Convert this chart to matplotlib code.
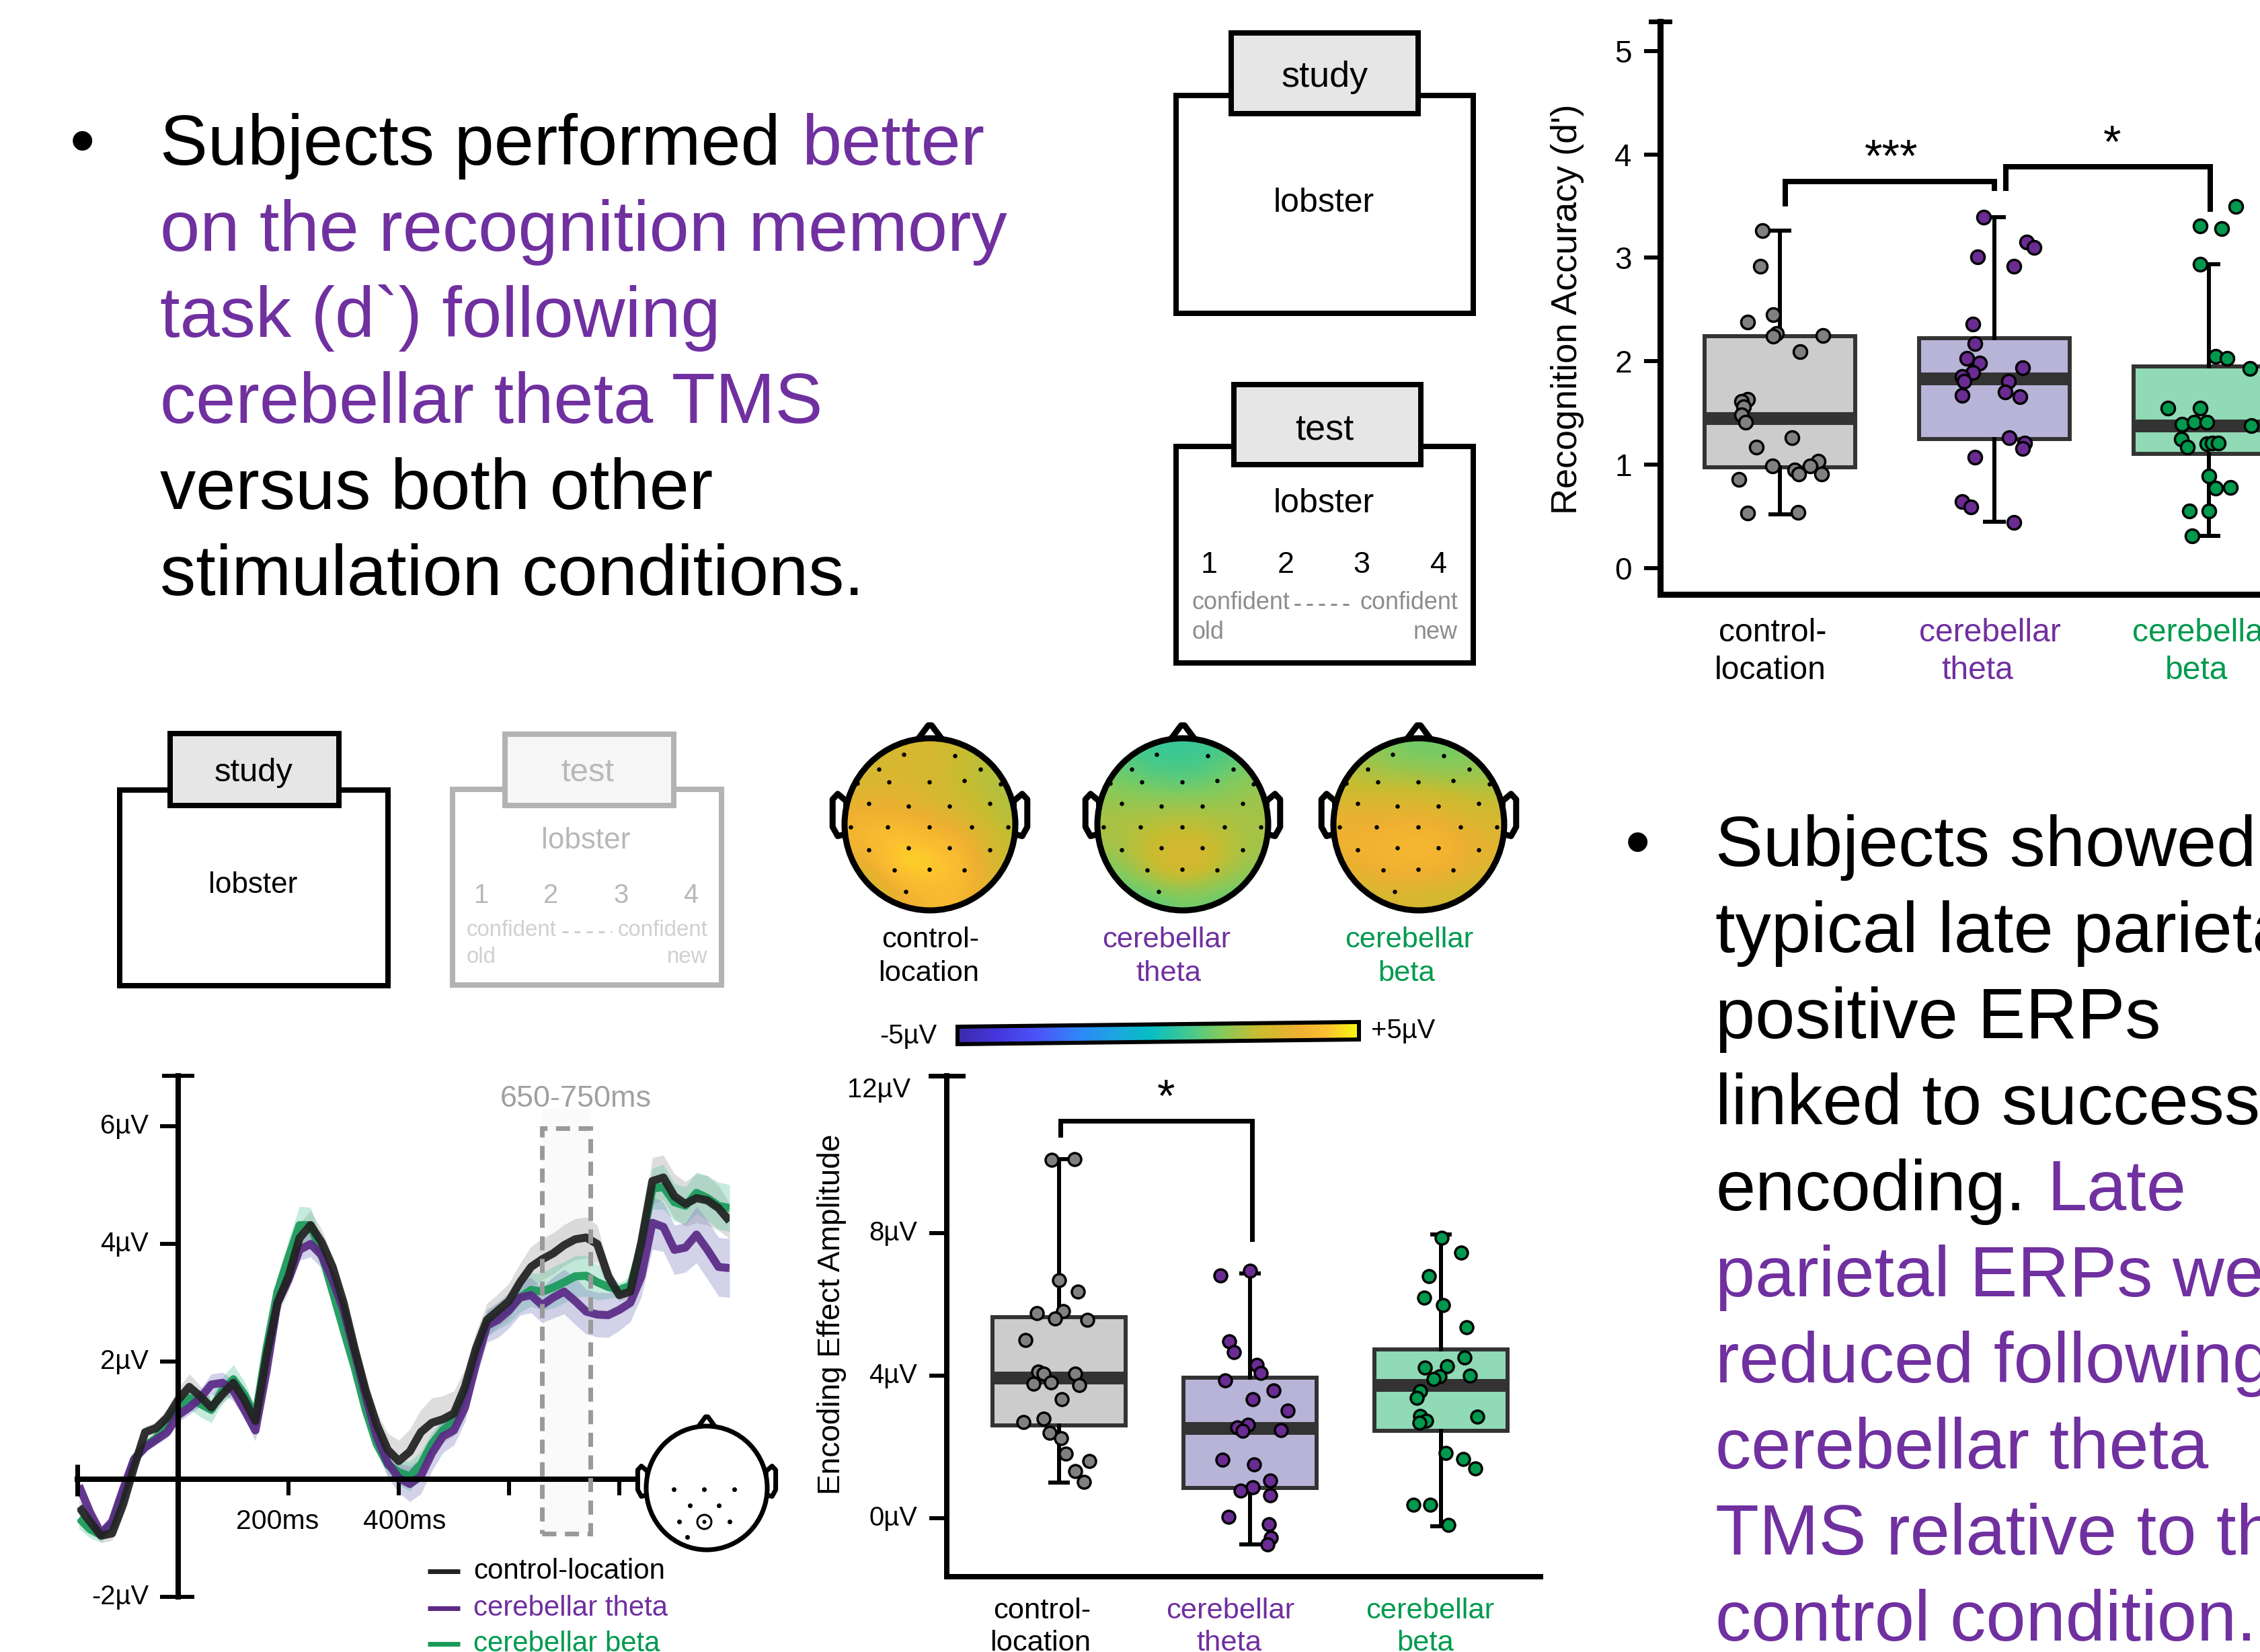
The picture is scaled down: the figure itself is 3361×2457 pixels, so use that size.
import numpy as np
import matplotlib
matplotlib.use('Agg')
from matplotlib import pyplot as plt
from matplotlib.colors import LinearSegmentedColormap
from matplotlib.patches import Ellipse, Polygon, Rectangle
from matplotlib.transforms import ScaledTranslation

plt.rcParams['font.family'] = ['Liberation Sans', 'DejaVu Sans']

W, H = 3361, 2457
PURPLE = '#7030A0'
GREEN = '#009A4E'

# ---- recognition accuracy boxes
rec_stats = [
    dict(med=1.45, q1=0.975, q3=2.24, whislo=0.52, whishi=3.26),
    dict(med=1.83, q1=1.25, q3=2.22, whislo=0.45, whishi=3.39),
    dict(med=1.38, q1=1.105, q3=1.95, whislo=0.31, whishi=2.94),
]
rec_control = [3.26, 2.92, 2.45, 2.38, 2.27, 2.24, 2.25, 2.09, 1.63, 1.61, 1.56, 1.48, 1.41, 1.26, 1.17, 1.03, 0.99, 0.99, 0.95, 0.91, 0.91, 0.86, 0.53, 0.54]
rec_control_x = [-0.08, -0.09, -0.03, -0.15, -0.016, -0.03, 0.2, 0.095, -0.15, -0.18, -0.17, -0.18, -0.16, 0.055, -0.11, 0.18, 0.14, -0.035, 0.07, 0.087, 0.195, -0.19, -0.15, 0.085]
rec_theta = [3.39, 3.15, 3.10, 3.01, 2.92, 2.36, 2.17, 2.03, 1.98, 1.94, 1.89, 1.85, 1.81, 1.81, 1.67, 1.70, 1.66, 1.26, 1.21, 1.16, 1.07, 0.64, 0.59, 0.44]
rec_theta_x = [-0.05, 0.15, 0.185, -0.08, 0.09, -0.10, -0.09, -0.13, -0.07, 0.13, -0.10, -0.15, -0.14, 0.065, -0.15, 0.05, 0.12, 0.07, 0.14, 0.13, -0.09, -0.15, -0.11, 0.09]
rec_beta = [3.50, 3.31, 3.28, 2.94, 2.05, 2.03, 1.93, 1.55, 1.55, 1.39, 1.41, 1.41, 1.38, 1.25, 1.17, 1.20, 1.21, 1.21, 0.89, 0.77, 0.78, 0.55, 0.55, 0.31]
rec_beta_x = [0.125, -0.04, 0.06, -0.04, 0.03, 0.085, 0.19, -0.19, -0.04, -0.125, -0.07, -0.01, 0.197, -0.13, -0.10, -0.01, 0.015, 0.044, 0.0, 0.03, 0.10, -0.09, 0.0, -0.08]

# ---- encoding effect boxes
enc_stats = [
    dict(med=3.93, q1=2.60, q3=5.63, whislo=1.0, whishi=10.07),
    dict(med=2.52, q1=0.85, q3=3.93, whislo=-0.74, whishi=6.87),
    dict(med=3.74, q1=2.45, q3=4.73, whislo=-0.23, whishi=7.96),
]
enc_control = [10.04, 10.07, 6.68, 6.35, 5.80, 5.74, 5.60, 5.56, 4.99, 4.10, 4.05, 4.06, 3.77, 3.81, 3.73, 3.33, 2.70, 2.79, 2.39, 2.25, 1.81, 1.60, 1.31, 1.02]
enc_control_x = [-0.04, 0.08, 0.0, 0.10, 0.02, -0.117, -0.02, 0.147, -0.175, -0.11, -0.08, 0.086, -0.134, -0.043, 0.106, 0.013, -0.185, -0.08, -0.05, 0.01, 0.035, 0.16, 0.084, 0.13]
enc_theta = [6.81, 6.94, 4.96, 4.65, 4.30, 4.07, 3.86, 3.58, 3.33, 3.01, 2.62, 2.55, 2.44, 2.47, 1.63, 1.50, 1.05, 0.87, 0.78, 0.63, 0.03, -0.18, -0.55, -0.73]
enc_theta_x = [-0.155, 0.0, -0.11, -0.086, 0.035, 0.056, -0.13, 0.124, 0.015, 0.198, -0.01, -0.068, -0.038, 0.162, -0.145, 0.02, 0.104, 0.013, -0.05, 0.104, -0.114, 0.1, 0.11, 0.09]
enc_beta = [7.87, 7.44, 6.78, 6.18, 5.98, 5.35, 4.50, 4.22, 4.25, 4.0, 3.98, 3.90, 3.57, 3.38, 2.87, 2.85, 2.73, 2.68, 1.82, 1.65, 1.40, 0.38, 0.37, -0.20]
enc_beta_x = [0.005, 0.104, -0.063, -0.089, 0.01, 0.134, 0.124, -0.086, 0.033, 0.15, -0.008, -0.04, -0.109, -0.127, -0.109, 0.19, -0.078, -0.114, 0.023, 0.117, 0.18, -0.144, -0.056, 0.04]

# ---- ERP curves, ms and microvolts
erp_t = [-180, -160, -140, -120, -100, -80, -60, -40, -20, 0, 20, 40, 60, 80, 100, 120, 140, 160, 180, 200,
         220, 240, 260, 280, 300, 320, 340, 360, 380, 400, 420, 440, 460, 480, 500, 520, 540, 560, 580, 600,
         620, 640, 660, 680, 700, 720, 740, 760, 780, 800, 820, 840, 860, 880, 900, 920, 940, 960, 980, 1000]
erp_control = [-0.47, -0.72, -0.96, -0.92, -0.43, 0.21, 0.80, 0.87, 1.05, 1.35, 1.57, 1.41, 1.22, 1.44, 1.64, 1.35, 0.99, 2.09, 3.0, 3.45,
               4.10, 4.32, 4.03, 3.61, 3.0, 2.22, 1.51, 0.93, 0.50, 0.31, 0.47, 0.80, 0.96, 1.02, 1.12, 1.57, 2.22, 2.71, 2.87, 3.03,
               3.35, 3.61, 3.74, 3.84, 3.98, 4.08, 4.11, 4.0, 3.45, 3.13, 3.19, 4.03, 5.07, 5.13, 4.81, 4.68, 4.78, 4.74, 4.61, 4.39]
erp_theta = [-0.11, -0.56, -0.92, -0.72, -0.17, 0.34, 0.54, 0.67, 0.80, 1.09, 1.22, 1.38, 1.61, 1.64, 1.51, 1.18, 0.83, 1.83, 3.0, 3.39,
             3.90, 4.0, 3.81, 3.39, 2.87, 2.16, 1.41, 0.73, 0.28, 0.02, -0.08, 0.05, 0.44, 0.73, 0.83, 1.22, 1.96, 2.61, 2.71, 2.87,
             3.09, 3.13, 2.96, 3.09, 3.19, 3.03, 2.85, 2.80, 2.79, 2.88, 3.0, 3.45, 4.36, 4.29, 3.90, 3.94, 4.16, 3.90, 3.61, 3.59]
erp_beta = [-0.66, -0.85, -0.95, -0.76, -0.24, 0.34, 0.57, 0.70, 0.96, 1.25, 1.38, 1.28, 1.18, 1.51, 1.70, 1.44, 1.06, 2.22, 3.19, 3.77,
            4.32, 4.32, 3.84, 3.19, 2.54, 1.90, 1.18, 0.60, 0.25, 0.12, 0.05, 0.25, 0.60, 0.83, 0.99, 1.44, 2.09, 2.64, 2.77, 2.90,
            3.09, 3.22, 3.19, 3.26, 3.35, 3.45, 3.46, 3.35, 3.27, 3.22, 3.29, 3.97, 4.94, 4.97, 4.71, 4.65, 4.87, 4.78, 4.65, 4.61]
erp_control_err = [0.12, 0.12, 0.12, 0.12, 0.10, 0.10, 0.10, 0.10, 0.15, 0.20, 0.22, 0.18, 0.12, 0.15, 0.15, 0.15, 0.15, 0.15, 0.22, 0.25,
                   0.25, 0.25, 0.22, 0.18, 0.15, 0.15, 0.18, 0.22, 0.28, 0.35, 0.38, 0.38, 0.42, 0.40, 0.38, 0.30, 0.28, 0.28, 0.28, 0.30,
                   0.32, 0.35, 0.35, 0.35, 0.35, 0.35, 0.35, 0.32, 0.20, 0.10, 0.12, 0.25, 0.40, 0.38, 0.38, 0.38, 0.42, 0.42, 0.38, 0.30]
erp_theta_err = [0.10, 0.10, 0.08, 0.08, 0.08, 0.08, 0.08, 0.08, 0.10, 0.12, 0.12, 0.15, 0.18, 0.18, 0.18, 0.15, 0.18, 0.15, 0.15, 0.15,
                 0.18, 0.22, 0.22, 0.18, 0.15, 0.12, 0.15, 0.20, 0.25, 0.25, 0.30, 0.30, 0.30, 0.28, 0.25, 0.25, 0.25, 0.28, 0.30, 0.30,
                 0.30, 0.30, 0.30, 0.35, 0.38, 0.40, 0.38, 0.38, 0.38, 0.35, 0.32, 0.35, 0.45, 0.42, 0.42, 0.42, 0.48, 0.50, 0.50, 0.50]
erp_beta_err = [0.18, 0.15, 0.12, 0.10, 0.10, 0.08, 0.08, 0.08, 0.08, 0.10, 0.18, 0.22, 0.22, 0.22, 0.25, 0.22, 0.18, 0.18, 0.25, 0.30,
                0.32, 0.30, 0.25, 0.20, 0.15, 0.15, 0.15, 0.15, 0.18, 0.22, 0.25, 0.22, 0.20, 0.18, 0.15, 0.15, 0.18, 0.22, 0.22, 0.25,
                0.25, 0.28, 0.32, 0.35, 0.35, 0.35, 0.35, 0.30, 0.20, 0.12, 0.15, 0.25, 0.35, 0.38, 0.32, 0.32, 0.35, 0.38, 0.40, 0.40]

# ---- scalp maps, rows go front to back, columns left to right
topo_control = [[2.7, 2.9, 2.9, 2.5, 2.2], [2.8, 3.0, 2.8, 2.4, 2.2], [3.5, 3.4, 3.1, 2.7, 2.2],
                [3.9, 4.4, 4.0, 3.7, 2.4], [3.0, 4.6, 4.6, 4.1, 2.7], [2.0, 3.3, 3.8, 3.9, 2.8]]
topo_theta = [[1.0, 0.6, 0.6, 0.7, 1.2], [1.5, 1.2, 1.0, 1.3, 1.8], [2.0, 2.0, 2.1, 2.0, 2.0],
              [2.1, 2.5, 2.7, 2.5, 2.0], [1.5, 2.6, 3.3, 2.6, 1.8], [0.8, 1.0, 1.4, 1.2, 1.0]]
topo_beta = [[2.0, 1.5, 1.3, 1.3, 1.6], [2.4, 2.2, 2.2, 2.0, 2.0], [3.2, 3.2, 3.3, 3.0, 2.6],
             [3.6, 3.7, 4.0, 3.6, 3.2], [3.4, 3.7, 3.8, 3.6, 3.1], [2.4, 2.9, 2.8, 2.6, 2.4]]
elec_x = [-0.31, 0.29, -0.60, 0.59, -0.85, -0.48, -0.01, 0.40, 0.83, -0.72, -0.25, 0.23, 0.70, -0.93, -0.50, -0.01, 0.49, 0.91, -0.72, -0.25, 0.23, 0.70, -0.42, -0.01, 0.40, -0.28]
elec_y = [-0.81, -0.80, -0.64, -0.64, -0.48, -0.49, -0.49, -0.51, -0.47, -0.24, -0.21, -0.21, -0.24, 0.03, 0.03, 0.03, 0.03, 0.03, 0.30, 0.27, 0.27, 0.30, 0.53, 0.52, 0.53, 0.78]
roi_x = [-0.54, -0.04, 0.46, -0.28, 0.20, -0.46, 0.38, -0.32]
roi_y = [0.02, 0.02, 0.02, 0.28, 0.28, 0.54, 0.54, 0.79]

left_lines = [('Subjects performed ', 'k'), ('on the recognition memory', PURPLE), ('task (d`) following', PURPLE),
              ('cerebellar theta TMS', PURPLE), ('versus both other', 'k'), ('stimulation conditions.', 'k')]
right_lines = [('Subjects showed', 'k'), ('typical late parietal', 'k'), ('positive ERPs', 'k'), ('linked to successful', 'k'),
               ('encoding.', 'k'), ('parietal ERPs were', PURPLE), ('reduced following', PURPLE), ('cerebellar theta', PURPLE),
               ('TMS relative to the', PURPLE), ('control condition.', PURPLE)]

parula = LinearSegmentedColormap.from_list('parula_ish', [
    (0.0, '#3b2aa8'), (0.1, '#4636e0'), (0.2, '#4a55f8'), (0.3, '#2f86f8'), (0.4, '#1aa8dc'), (0.48, '#08bdc4'),
    (0.58, '#44c98c'), (0.65, '#7ecb60'), (0.75, '#c8bc30'), (0.85, '#efb030'), (0.92, '#fcc030'), (1.0, '#f8f810')])


def pt(px):
    # dpi is 100, so everything below is given in output pixels
    return px * 0.72


def px_axes(x0, y0, x1, y1, **kw):
    return fig.add_axes([x0 / W, 1 - y1 / H, (x1 - x0) / W, (y1 - y0) / H], **kw)


fig = plt.figure(figsize=(W / 100, H / 100), dpi=100, facecolor='white')
ov = px_axes(0, 0, W, H, zorder=5)
ov.set_xlim(0, W)
ov.set_ylim(H, 0)
ov.axis('off')
ov.patch.set_alpha(0)


def label(x, y, s, size, color='k', ha='center', **kw):
    ov.text(x, y, s, fontsize=pt(size), color=color, ha=ha, va=kw.pop('va', 'center'), **kw)


def lift_ticklabels(ax, px):
    shift = ScaledTranslation(0, px / 100, fig.dpi_scale_trans)
    for lab in ax.get_yticklabels():
        lab.set_transform(lab.get_transform() + shift)


def trial_box(body, tab, tab_fill, edge):
    ov.add_patch(Rectangle((body[0], body[1]), body[2] - body[0], body[3] - body[1], fc='white', ec=edge, lw=pt(8), joinstyle='miter'))
    ov.add_patch(Rectangle((tab[0], tab[1]), tab[2] - tab[0], tab[3] - tab[1], fc=tab_fill, ec=edge, lw=pt(8), joinstyle='miter'))


def head(cx, cy, rx, ry, lw=9, zorder=3):
    ov.add_patch(Polygon([(cx - 0.14 * rx, cy - ry * 0.99), (cx - 0.02 * rx, cy - ry * 1.15), (cx + 0.02 * rx, cy - ry * 1.15), (cx + 0.14 * rx, cy - ry * 0.99)],
                         closed=True, fc='white', ec='k', lw=pt(lw), joinstyle='round', zorder=zorder))
    for s in (-1, 1):
        ov.add_patch(Polygon([(cx + s * rx * 0.98, cy - 0.27 * ry), (cx + s * rx * 1.08, cy - 0.354 * ry), (cx + s * rx * 1.14, cy - 0.29 * ry),
                              (cx + s * rx * 1.14, cy + 0.03 * ry), (cx + s * rx * 1.08, cy + 0.137 * ry), (cx + s * rx * 0.98, cy + 0.11 * ry)],
                             closed=True, fc='white', ec='k', lw=pt(lw), joinstyle='round', zorder=zorder))


def box_panel(ax, stats, pts, pt_fill, box_fill, xlim, ylim, dot):
    res = ax.bxp(stats, positions=[0, 1, 2], widths=0.70, patch_artist=True, showfliers=False, capwidths=0.09,
                 manage_ticks=False, boxprops=dict(edgecolor='#333333', linewidth=pt(6)),
                 medianprops=dict(color='#333333', linewidth=pt(19), solid_capstyle='butt'),
                 whiskerprops=dict(color='k', linewidth=pt(6)), capprops=dict(color='k', linewidth=pt(6)))
    for b, c in zip(res['boxes'], box_fill):
        b.set_facecolor(c)
    for i, (vals, off) in enumerate(pts):
        ax.scatter(i + np.array(off), vals, s=pt(dot) ** 2, color=pt_fill[i], edgecolor='k', linewidth=pt(3.5), zorder=6, clip_on=False)
    ax.set_xlim(*xlim)
    ax.set_ylim(*ylim)
    ax.set_xticks([])
    ax.spines[['top', 'right']].set_visible(False)


dot_fill = ['#808080', '#6a2b92', '#00994d']
box_fill = ['#cccccc', '#b8b4d8', '#90dab6']

# ---- recognition panel
ax1 = px_axes(2469, 32, 3361, 884)
box_panel(ax1, rec_stats, [(rec_control, rec_control_x), (rec_theta, rec_theta_x), (rec_beta, rec_beta_x)],
          dot_fill, box_fill, (-0.558, 2.238), (-0.254, 5.285), 20)
ax1.spines['left'].set_linewidth(pt(9))
ax1.spines['bottom'].set_linewidth(pt(9))
ax1.set_yticks([0, 1, 2, 3, 4, 5])
ax1.tick_params(axis='y', length=pt(24), width=pt(6), labelsize=pt(46), pad=pt(18))
ax1.plot([-0.016, 0.016], [5.285, 5.285], transform=ax1.get_yaxis_transform(), color='k', lw=pt(7), clip_on=False)
ax1.plot([0.024, 0.024, 1.0, 1.0], [3.52, 3.74, 3.74, 3.67], color='k', lw=pt(8), solid_joinstyle='miter')
ax1.plot([1.053, 1.053, 2.007, 2.007], [3.67, 3.88, 3.88, 3.47], color='k', lw=pt(8), solid_joinstyle='miter')
ax1.text(0.52, 3.95, '***', fontsize=pt(68), ha='center', va='center')
ax1.text(1.55, 4.09, '*', fontsize=pt(68), ha='center', va='center')
label(2331, 460, "Recognition Accuracy (d')", 54, rotation=90)
label(2636, 941, 'control-', 48)
label(2633, 998, 'location', 48)
label(2959, 941, 'cerebellar', 48, PURPLE)
label(2941, 998, 'theta', 48, PURPLE)
label(3171, 941, 'cerebellar', 48, GREEN, ha='left')
label(3267, 998, 'beta', 48, GREEN)

# ---- encoding effect panel
ax3 = px_axes(1408, 1600, 2291, 2345)
box_panel(ax3, enc_stats, [(enc_control, enc_control_x), (enc_theta, enc_theta_x), (enc_beta, enc_beta_x)],
          dot_fill, box_fill, (-0.588, 2.521), (-1.643, 12.405), 19)
ax3.spines['left'].set_linewidth(pt(8))
ax3.spines['bottom'].set_linewidth(pt(8))
ax3.set_yticks([0, 4, 8], ['0µV', '4µV', '8µV'])
ax3.tick_params(axis='y', length=pt(26), width=pt(6), labelsize=pt(40), pad=pt(18))
lift_ticklabels(ax3, 4)
ax3.plot([-0.027, 0.027], [12.405, 12.405], transform=ax3.get_yaxis_transform(), color='k', lw=pt(7), clip_on=False)
ax3.plot([0.008, 0.008, 1.009, 1.009], [10.75, 11.14, 11.14, 7.83], color='k', lw=pt(7), solid_joinstyle='miter')
ax3.text(0.56, 11.75, '*', fontsize=pt(68), ha='center', va='center')
label(1354, 1621, '12µV', 40, ha='right')
label(1237, 1955, 'Encoding Effect Amplitude', 46, rotation=90)
label(1550, 2396, 'control-', 43.5)
label(1547, 2444, 'location', 43.5)
label(1830, 2396, 'cerebellar', 43.5, PURPLE)
label(1828, 2444, 'theta', 43.5, PURPLE)
label(2127, 2396, 'cerebellar', 43.5, GREEN)
label(2120, 2444, 'beta', 43.5, GREEN)

# ---- ERP panel
ax2 = px_axes(115, 1600, 1085, 2375)
t = np.array(erp_t)
ax2.add_patch(Rectangle((660, -0.92), 87, 7.22, fc='#fafafa', ec='none', zorder=0))
erp_style = [(erp_control, erp_control_err, '#222222', '#aaaaaa', 0.4), (erp_beta, erp_beta_err, '#1a9a5a', '#5cc8a0', 0.35),
             (erp_theta, erp_theta_err, '#5b2a86', '#8080c0', 0.35)]
for vals, err, col, band, a in erp_style:
    vals = np.array(vals)
    err = np.array(err)
    ax2.fill_between(t, vals - err, vals + err, color=band, alpha=a, lw=0, zorder=1)
for vals, err, col, band, a in erp_style[1:] + erp_style[:1]:
    ax2.plot(t, vals, color=col, lw=pt(12), alpha=0.93, zorder=2, solid_capstyle='butt', solid_joinstyle='round')
ax2.add_patch(Rectangle((660, -0.92), 87, 6.89, fill=False, ec='#9a9a9a', lw=pt(7), ls=(0, (3, 1.8)), zorder=3))
ax2.set_xlim(-183, 1000)
ax2.set_ylim(-2, 6.86)
ax2.patch.set_alpha(0)
ax2.spines[['top', 'right']].set_visible(False)
ax2.spines['left'].set_position(('data', 0))
ax2.spines['bottom'].set_position(('data', 0))
ax2.spines['left'].set_linewidth(pt(8))
ax2.spines['bottom'].set_linewidth(pt(8))
ax2.spines['bottom'].set_bounds(-183, 830)
ax2.set_yticks([-2, 2, 4, 6], ['-2µV', '2µV', '4µV', '6µV'])
ax2.set_xticks([200, 400, 600, 800], [])
ax2.tick_params(axis='y', length=pt(27), width=pt(6), labelsize=pt(40), pad=pt(17))
ax2.tick_params(axis='x', length=pt(24), width=pt(6))
lift_ticklabels(ax2, 4)
ov.plot([241, 289], [1600, 1600], color='k', lw=pt(6), solid_capstyle='butt')
ov.plot([241, 289], [2375, 2375], color='k', lw=pt(6), solid_capstyle='butt')
ov.plot([115, 115], [2178, 2225], color='k', lw=pt(7), solid_capstyle='butt')
label(413, 2263, '200ms', 41)
label(602, 2263, '400ms', 41)
label(856, 1635, '650-750ms', 45, '#a0a0a0')
for y, s, c, lc in [(2337, 'control-location', 'k', '#222222'), (2392, 'cerebellar theta', PURPLE, '#5b2a86'), (2445, 'cerebellar beta', GREEN, '#1a9a5a')]:
    ov.plot([636, 684], [y, y], color=lc, lw=pt(7), solid_capstyle='butt')
    label(704, y, s, 42, c, ha='left')

# small head with the ERP electrodes
head(1051, 2213, 90, 92, lw=7)
ov.add_patch(Ellipse((1051, 2213), 180, 184, fc='white', ec='k', lw=pt(7), zorder=3))
ov.scatter(1051 + 90 * np.array(roi_x), 2213 + 92 * np.array(roi_y), s=pt(7) ** 2, color='k', lw=0, zorder=4)
ov.scatter([1047], [2263], s=pt(21) ** 2, fc='white', ec='k', lw=pt(3), zorder=4)
ov.scatter([1047], [2263], s=pt(6) ** 2, color='k', lw=0, zorder=5)

# ---- scalp maps
for cx, topo in zip([1383, 1759, 2110], [topo_control, topo_theta, topo_beta]):
    rx, ry, cy = 127, 128, 1226
    head(cx, cy, rx, ry)
    im = ov.imshow(topo, cmap=parula, vmin=-5, vmax=5, interpolation='bicubic', aspect='auto',
                   extent=(cx - rx, cx + rx, cy + ry, cy - ry), zorder=3.5)
    im.set_clip_path(Ellipse((cx, cy), 2 * rx, 2 * ry, transform=ov.transData))
    ov.add_patch(Ellipse((cx, cy), 2 * rx, 2 * ry, fc='none', ec='k', lw=pt(9), zorder=4))
    ov.scatter(cx + rx * np.array(elec_x), cy + ry * np.array(elec_y), s=pt(6.5) ** 2, color='k', lw=0, zorder=5)
ov.set_xlim(0, W)
ov.set_ylim(H, 0)

label(1384, 1398, 'control-', 43.5)
label(1381, 1448, 'location', 43.5)
label(1735, 1398, 'cerebellar', 43.5, PURPLE)
label(1738, 1448, 'theta', 43.5, PURPLE)
label(2096, 1398, 'cerebellar', 43.5, GREEN)
label(2092, 1448, 'beta', 43.5, GREEN)

# colour bar, slightly tilted as in the slide
bar_x = np.linspace(1424, 2021, 257)
bar_top = np.linspace(1527, 1520, 257)
bar_xx = np.vstack([bar_x, bar_x])
bar_yy = np.vstack([bar_top, bar_top + 26])
bar_vals = np.linspace(-5, 5, 256)[None, :]
ov.pcolormesh(bar_xx, bar_yy, bar_vals, cmap=parula, vmin=-5, vmax=5, zorder=3, rasterized=True)
ov.add_patch(Polygon([(1424, 1527), (2021, 1520), (2021, 1546), (1424, 1553)], closed=True, fc='none', ec='k', lw=pt(6), zorder=4))
label(1351, 1541, '-5µV', 40)
label(2087, 1533, '+5µV', 40)

# ---- trial schematics
trial_box((1749, 142, 2191, 466), (1831, 49, 2109, 169), '#e6e6e6', 'k')
label(1970, 115, 'study', 54)
label(1969, 302, 'lobster', 50)
trial_box((1749, 664, 2191, 986), (1835, 572, 2113, 691), '#e6e6e6', 'k')
label(1970, 639, 'test', 54)
label(1969, 749, 'lobster', 50)
for x, s in zip([1798, 1912, 2025, 2139], '1234'):
    label(x, 841, s, 45)
label(1772, 896, 'confident', 36, '#8c8c8c', ha='left')
label(2168, 896, 'confident', 36, '#8c8c8c', ha='right')
ov.plot([1925, 2008], [899, 899], color='#8c8c8c', lw=pt(3), ls=(0, (3, 3)))
label(1772, 941, 'old', 36, '#8c8c8c', ha='left')
label(2168, 941, 'new', 36, '#8c8c8c', ha='right')

trial_box((178, 1175, 577, 1466), (253, 1091, 504, 1198), '#e6e6e6', 'k')
label(377, 1149, 'study', 49)
label(376, 1317, 'lobster', 44)
trial_box((673, 1174, 1073, 1465), (751, 1092, 1002, 1198), '#f6f6f6', '#b3b3b3')
label(874, 1150, 'test', 49, '#b8b8b8')
label(871, 1250, 'lobster', 44, '#b8b8b8')
for x, s in zip([716, 819, 924, 1027], '1234'):
    label(x, 1332, s, 40, '#b8b8b8')
label(694, 1384, 'confident', 33, '#d0d0d0', ha='left')
label(1052, 1384, 'confident', 33, '#d0d0d0', ha='right')
ov.plot([836, 910], [1386, 1386], color='#d0d0d0', lw=pt(3), ls=(0, (3, 3)))
label(694, 1424, 'old', 33, '#d0d0d0', ha='left')
label(1052, 1424, 'new', 33, '#d0d0d0', ha='right')

# ---- slide text
FS = 106.4
for i, (s, c) in enumerate(left_lines):
    label(238, 245 + 128 * i, s, FS, c, ha='left', va='baseline')
label(1192, 245, 'better', FS, PURPLE, ha='left', va='baseline')
label(122, 245, '•', FS, ha='center', va='baseline')
for i, (s, c) in enumerate(right_lines):
    label(2551, 1288 + 128 * i, s, FS, c, ha='left', va='baseline')
label(3044, 1288 + 128 * 4, 'Late', FS, PURPLE, ha='left', va='baseline')
label(2435, 1288, '•', FS, ha='center', va='baseline')

fig.savefig('out.png', dpi=100)
